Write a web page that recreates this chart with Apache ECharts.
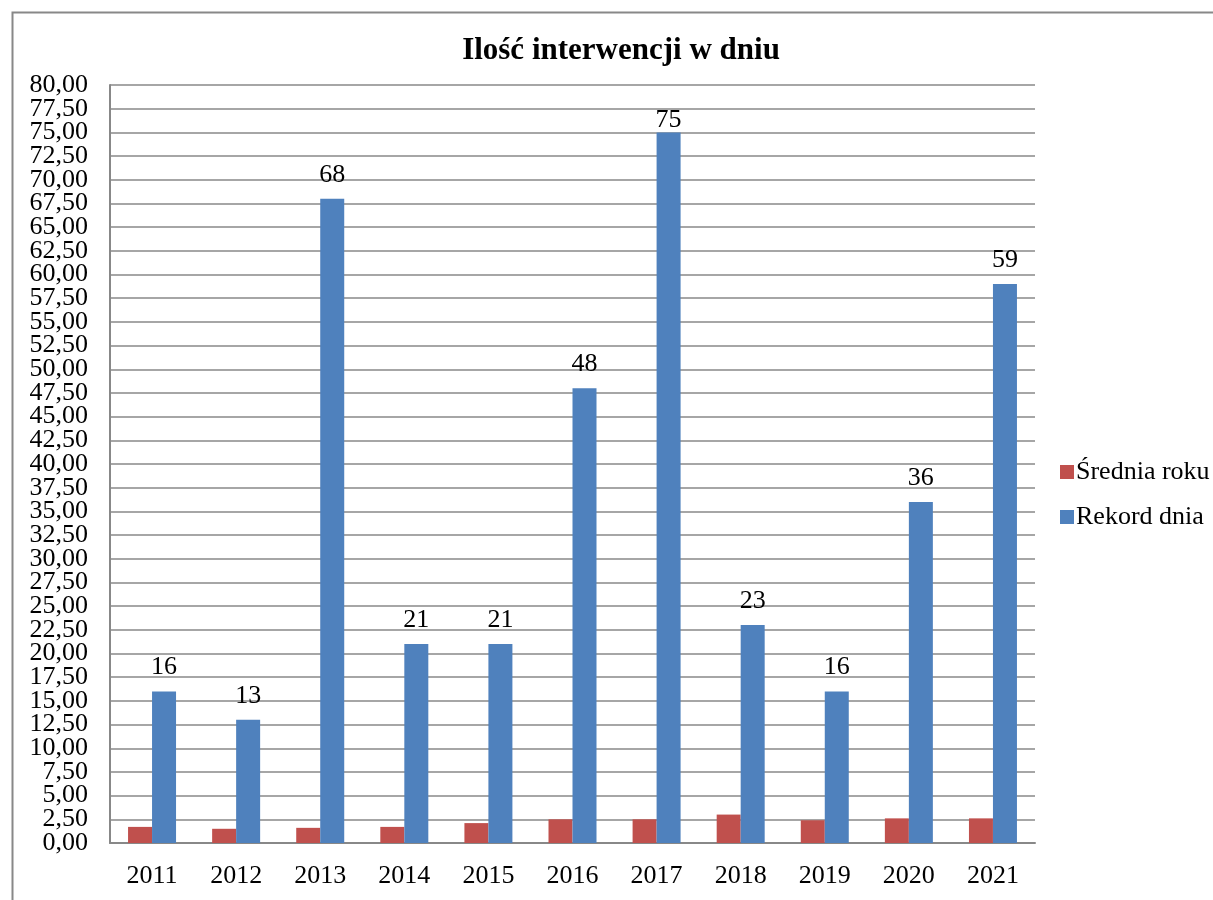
<!DOCTYPE html>
<html><head><meta charset="utf-8">
<script src="https://cdn.jsdelivr.net/npm/echarts@6/dist/echarts.min.js"></script>
<style>html,body{margin:0;padding:0;background:#fff}#c{width:1213px;height:900px}</style>
</head><body><div id="c"></div>
<script>
const categories = ['2011','2012','2013','2014','2015','2016','2017','2018','2019','2020','2021'];
const sredniaRoku = [1.7, 1.5, 1.6, 1.7, 2.1, 2.5, 2.5, 3.0, 2.4, 2.6, 2.6];
const rekordDnia = [16, 13, 68, 21, 21, 48, 75, 23, 16, 36, 59];
const seriesNames = ['Średnia roku', 'Rekord dnia'];
const titleText = 'Ilość interwencji w dniu';

const font = 'Liberation Serif, Times New Roman, serif';
const yMax = 80;
const fmt = v => v.toFixed(2).replace('.', ',');
const labelBase = {fontFamily: font, fontSize: 26, color: '#000', margin: 22,
  showMinLabel: true, showMaxLabel: true, hideOverlap: false};
// labels near the top of the plot are kept inside the plot area (as in the original)
const rekordData = rekordDnia.map(v => (v > yMax - 7 ? {value: v, label: {distance: -1}} : v));
const chart = echarts.init(document.getElementById('c'));
chart.setOption({
  animation: false,
  textStyle: {fontFamily: font},
  graphic: [{type:'rect', left:10, top:10, shape:{width:1240, height:920}, style:{fill:'none', stroke:'#888', lineWidth:2}, z:-1}],
  title: {text: titleText, left: 616, textAlign: 'center', top: 30,
    textStyle: {fontFamily: font, fontSize: 31, fontWeight: 'bold', color: '#000'}},
  legend: {orient: 'vertical', left: 1055, top: 454, itemWidth: 14, itemHeight: 14, itemGap: 19,
    icon: 'rect', textStyle: {fontFamily: font, fontSize: 26, lineHeight: 26, color: '#000', padding: [0,0,0,-3]},
    data: seriesNames},
  grid: {left: 110, right: 178, top: 85, bottom: 57, containLabel: false},
  xAxis: {type: 'category', data: categories,
    axisLine: {lineStyle: {color: '#888', width: 2}}, axisTick: {show: false},
    axisLabel: {fontFamily: font, fontSize: 26, color: '#000', margin: 20}},
  yAxis: [
    {type: 'value', min: 0, max: yMax, interval: 2.5,
      axisLine: {show: true, lineStyle: {color: '#888', width: 2}}, axisTick: {show: false},
      splitLine: {lineStyle: {color: '#888', width: 1.5}},
      axisLabel: Object.assign({}, labelBase, {formatter: v => (Math.round(v * 10) % 50 === 0 ? fmt(v) : '')})},
    {type: 'value', min: 0, max: yMax, interval: 2.5, position: 'left',
      axisLine: {show: false}, axisTick: {show: false}, splitLine: {show: false},
      axisLabel: Object.assign({}, labelBase, {formatter: v => (Math.round(v * 10) % 50 === 25 ? fmt(v) : '')})}
  ],
  series: [
    {name: seriesNames[0], type: 'bar', data: sredniaRoku, barWidth: 24, barGap: '0%',
      itemStyle: {color: '#C0504D'}},
    {name: seriesNames[1], type: 'bar', data: rekordData, barWidth: 24, barGap: '0%',
      itemStyle: {color: '#4F81BD'},
      label: {show: true, position: 'top', distance: 11, fontFamily: font, fontSize: 26, color: '#000'}}
  ]
});
</script></body></html>
